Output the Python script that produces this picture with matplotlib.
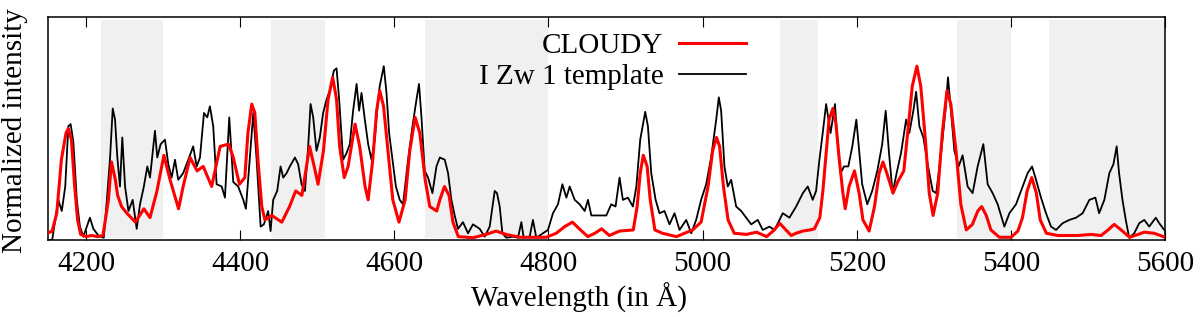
import matplotlib
matplotlib.use('Agg')
import matplotlib.pyplot as plt

plt.rcParams['font.family'] = ['Liberation Serif', 'DejaVu Serif']

# CLOUDY model (red)
cloudy_wl = [4150, 4156, 4162, 4168, 4174, 4177, 4181, 4185, 4189, 4193, 4200, 4207, 4215,
             4222, 4229, 4233, 4238, 4241, 4246, 4253, 4264, 4275, 4283, 4292, 4301, 4309,
             4320, 4326, 4335, 4344, 4352, 4363, 4374, 4385, 4391, 4399, 4406, 4410, 4415,
             4419, 4423, 4428, 4432, 4441, 4454, 4464, 4472, 4480, 4486, 4490, 4496, 4501,
             4508, 4514, 4520, 4525, 4529, 4535, 4540, 4549, 4555, 4562, 4566, 4572, 4577,
             4581, 4586, 4592, 4598, 4606, 4614, 4620, 4627, 4633, 4640, 4646, 4655, 4659,
             4665, 4671, 4676, 4683, 4702, 4719, 4732, 4745, 4763, 4797, 4810, 4821, 4831,
             4840, 4851, 4860, 4869, 4879, 4892, 4910, 4915, 4919, 4923, 4928, 4932, 4938,
             4948, 4966, 4987, 4998, 5007, 5013, 5018, 5022, 5027, 5033, 5041, 5057, 5070,
             5083, 5093, 5100, 5108, 5115, 5121, 5130, 5139, 5145, 5152, 5156, 5161, 5164,
             5169, 5173, 5177, 5182, 5185, 5190, 5197, 5203, 5208, 5216, 5223, 5229, 5234,
             5239, 5247, 5253, 5261, 5266, 5272, 5278, 5283, 5289, 5294, 5299, 5305, 5311,
             5317, 5322, 5329, 5335, 5342, 5350, 5357, 5362, 5368, 5374, 5385, 5400, 5409,
             5415, 5421, 5427, 5433, 5438, 5446, 5461, 5487, 5504, 5517, 5526, 5534, 5543,
             5554, 5565, 5573, 5586, 5600]
cloudy_int = [0.03, 0.04, 0.12, 0.36, 0.48, 0.50, 0.45, 0.25, 0.09, 0.025, 0.015, 0.02, 0.015,
              0.02, 0.18, 0.35, 0.27, 0.20, 0.15, 0.12, 0.08, 0.14, 0.10, 0.22, 0.38, 0.27,
              0.14, 0.24, 0.37, 0.31, 0.33, 0.24, 0.42, 0.43, 0.37, 0.25, 0.28, 0.48, 0.61,
              0.57, 0.36, 0.15, 0.09, 0.11, 0.08, 0.15, 0.22, 0.20, 0.33, 0.42, 0.33, 0.25,
              0.40, 0.63, 0.73, 0.63, 0.42, 0.28, 0.33, 0.52, 0.42, 0.24, 0.18, 0.36, 0.58,
              0.67, 0.60, 0.39, 0.18, 0.08, 0.18, 0.40, 0.55, 0.48, 0.27, 0.15, 0.13, 0.18,
              0.24, 0.20, 0.08, 0.015, 0.01, 0.025, 0.04, 0.025, 0.012, 0.012, 0.03, 0.06, 0.08,
              0.05, 0.015, 0.03, 0.05, 0.02, 0.04, 0.045, 0.15, 0.30, 0.38, 0.33, 0.18, 0.045,
              0.03, 0.015, 0.045, 0.08, 0.24, 0.40, 0.46, 0.42, 0.24, 0.09, 0.03, 0.025, 0.035,
              0.015, 0.045, 0.075, 0.045, 0.02, 0.03, 0.04, 0.045, 0.05, 0.10, 0.22, 0.42, 0.54,
              0.59, 0.52, 0.37, 0.21, 0.14, 0.24, 0.31, 0.21, 0.09, 0.04, 0.15, 0.30, 0.35,
              0.30, 0.21, 0.26, 0.31, 0.48, 0.69, 0.78, 0.69, 0.45, 0.21, 0.11, 0.21, 0.48,
              0.67, 0.61, 0.39, 0.16, 0.045, 0.07, 0.13, 0.15, 0.11, 0.045, 0.012, 0.012, 0.04,
              0.10, 0.22, 0.28, 0.21, 0.09, 0.03, 0.02, 0.02, 0.025, 0.02, 0.045, 0.07, 0.045,
              0.012, 0.025, 0.035, 0.03, 0.012]

# I Zw 1 template (black)
izw1_wl = [4150, 4156, 4164, 4168.5, 4173, 4177, 4180, 4183.5, 4188, 4192, 4196.5, 4201, 4205,
           4209.5, 4216, 4223, 4227, 4231, 4234.6, 4237.6, 4240.6, 4244, 4247, 4250.6, 4255,
           4260.5, 4265.7, 4270, 4275, 4279.5, 4283, 4289.4, 4292.4, 4296.8, 4302.4, 4306.7,
           4311, 4315.4, 4319.6, 4326, 4332.6, 4339, 4343.5, 4347.8, 4353, 4357.2, 4360.7,
           4365, 4369.4, 4376, 4380.2, 4385.8, 4391, 4397.4, 4404, 4407.4, 4411.7, 4417,
           4421.3, 4426.5, 4430.7, 4436.3, 4439.4, 4442.8, 4448, 4452.4, 4455.8, 4460.2, 4464.4,
           4471, 4475.2, 4479.6, 4484, 4488.2, 4491.3, 4494.7, 4499, 4503.3, 4507.6, 4512,
           4516.3, 4521.5, 4525, 4528.4, 4533.5, 4538, 4542.2, 4546.5, 4551, 4554.3, 4557.4,
           4561.7, 4566, 4570.4, 4574.6, 4577.6, 4581, 4586.3, 4589.8, 4593.2, 4597.6, 4602,
           4607, 4611.3, 4617.8, 4623.5, 4628.7, 4632, 4635.2, 4639.4, 4643.7, 4649.4, 4654.6,
           4659, 4665.4, 4669.7, 4674, 4678.3, 4682.6, 4689, 4695.6, 4702, 4710.7, 4717.2,
           4723.7, 4730.2, 4733.2, 4736.7, 4740.2, 4745.4, 4754, 4760.4, 4764.8, 4767.8, 4775.6,
           4779.8, 4784.2, 4792.8, 4799.3, 4805.8, 4812.3, 4818, 4823.2, 4827.5, 4834, 4840.4,
           4847, 4851.2, 4855.6, 4875, 4881.4, 4887, 4892.2, 4896.5, 4903, 4909.5, 4914,
           4919, 4925.5, 4929, 4933.3, 4939, 4944, 4950.5, 4957, 4963.5, 4970, 4978.7, 4985.2,
           4991.6, 4998, 5004.6, 5011, 5017.6, 5021, 5024, 5028.3, 5032.6, 5037, 5043.5, 5050,
           5056.5, 5063, 5071.5, 5078, 5086.7, 5093.2, 5099.7, 5104, 5112.6, 5121.3, 5130,
           5136.4, 5142.8, 5147.2, 5151.5, 5155.8, 5160.2, 5166, 5171.7, 5174.7, 5179, 5183.4,
           5189, 5194.2, 5199.4, 5203.8, 5207, 5213.6, 5220, 5226.6, 5233, 5237.5, 5241.8,
           5246.5, 5251.7, 5257.4, 5264, 5268.2, 5273.4, 5277, 5281.2, 5286.4, 5292, 5298.5,
           5303, 5309.4, 5315, 5318.3, 5322.2, 5326.6, 5332.2, 5337.3, 5343.8, 5350.3, 5356.8,
           5364.2, 5369.8, 5376.3, 5382.8, 5391.5, 5398, 5406.6, 5415.2, 5421.7, 5427.4,
           5432.6, 5439, 5445.5, 5452, 5458.5, 5467, 5475.8, 5484.5, 5493, 5501.8, 5509.6,
           5514.4, 5521.2, 5527.7, 5533, 5537.2, 5540.3, 5544.7, 5549, 5553.4, 5560, 5566.4,
           5573, 5579.4, 5588, 5592.4, 5599]
izw1_int = [0.0, 0.0, 0.18, 0.13, 0.24, 0.51, 0.52, 0.44, 0.18, 0.06, 0.015, 0.06, 0.10,
            0.05, 0.02, 0.01, 0.18, 0.36, 0.59, 0.54, 0.37, 0.24, 0.46, 0.24, 0.13,
            0.18, 0.05, 0.16, 0.24, 0.33, 0.28, 0.49, 0.37, 0.43, 0.45, 0.34,
            0.28, 0.36, 0.27, 0.30, 0.36, 0.42, 0.33, 0.37, 0.57, 0.55, 0.60,
            0.51, 0.25, 0.24, 0.19, 0.55, 0.26, 0.24, 0.18, 0.14, 0.33, 0.57,
            0.36, 0.06, 0.07, 0.13, 0.04, 0.18, 0.22, 0.33, 0.28, 0.30, 0.33,
            0.37, 0.34, 0.25, 0.22, 0.42, 0.61, 0.55, 0.40, 0.46, 0.57, 0.63,
            0.67, 0.76, 0.77, 0.63, 0.36, 0.39, 0.43, 0.58, 0.70, 0.58, 0.66,
            0.54, 0.43, 0.36, 0.45, 0.58, 0.69, 0.78, 0.66, 0.48, 0.36, 0.24,
            0.18, 0.16, 0.36, 0.51, 0.63, 0.70, 0.55, 0.31, 0.28, 0.21, 0.33,
            0.37, 0.36, 0.30, 0.18, 0.11, 0.05, 0.08, 0.03, 0.07, 0.05, 0.015,
            0.06, 0.22, 0.21, 0.15, 0.03, 0.01, 0.015, 0.01, 0.08, 0.01, 0.015,
            0.09, 0.01, 0.03, 0.045, 0.12, 0.16, 0.25, 0.19, 0.24, 0.18, 0.16,
            0.13, 0.18, 0.11, 0.11, 0.16, 0.15, 0.28, 0.18, 0.19, 0.15, 0.24,
            0.45, 0.575, 0.51, 0.30, 0.18, 0.12, 0.13, 0.07, 0.12, 0.045, 0.09, 0.03,
            0.09, 0.18, 0.25, 0.37, 0.54, 0.64, 0.58, 0.33, 0.24, 0.27, 0.15, 0.13,
            0.10, 0.07, 0.09, 0.045, 0.06, 0.045, 0.09, 0.12, 0.10, 0.15, 0.21,
            0.24, 0.18, 0.22, 0.36, 0.48, 0.61, 0.48, 0.61, 0.45, 0.30, 0.33,
            0.33, 0.42, 0.54, 0.37, 0.25, 0.16, 0.22, 0.31, 0.43, 0.58, 0.39,
            0.21, 0.30, 0.39, 0.54, 0.48, 0.58, 0.665, 0.51, 0.46, 0.34, 0.22,
            0.21, 0.39, 0.58, 0.73, 0.58, 0.40, 0.33, 0.38, 0.24, 0.21, 0.33,
            0.43, 0.25, 0.21, 0.16, 0.06, 0.12, 0.16, 0.24, 0.30, 0.33,
            0.27, 0.19, 0.12, 0.06, 0.045, 0.075, 0.09, 0.10, 0.12, 0.18, 0.19,
            0.12, 0.18, 0.30, 0.34, 0.42, 0.30, 0.18, 0.09, 0.01, 0.03, 0.075,
            0.09, 0.06, 0.10, 0.075, 0.045]

# shaded wavelength windows
shade_start = [4220, 4440, 4640, 5100, 5330, 5450]
shade_end = [4300, 4510, 4800, 5150, 5400, 5600]

fig = plt.figure(figsize=(12, 3.17), dpi=100)
ax = fig.add_axes([0.0396, 0.243, 0.9313, 0.703])

for s, e in zip(shade_start, shade_end):
    ax.axvspan(s, e, ymin=0.01, ymax=0.985, color='#f0f0f0', lw=0, zorder=0)

ax.plot(izw1_wl, izw1_int, color='black', lw=1.3, label='I Zw 1 template', zorder=2)
ax.plot(cloudy_wl, cloudy_int, color='#ff0000', lw=2.2, label='CLOUDY', zorder=3)

ax.set_xlim(4150, 5600)
ax.set_ylim(0, 1)
ax.set_xticks(range(4200, 5601, 200))
ax.set_yticks([])
ax.tick_params(axis='x', direction='in', top=True, length=7, width=0.8,
               labelsize=21, pad=8)
for sp in ax.spines.values():
    sp.set_linewidth(1.1)

ax.set_xlabel('Wavelength (in Å)', fontsize=21)
ax.xaxis.set_label_coords(0.476, -0.19)
ax.set_ylabel('Normalized intensity', fontsize=21)
ax.yaxis.set_label_coords(-0.0175, 0.49)

h, l = ax.get_legend_handles_labels()
ax.legend(h[::-1], l[::-1], loc='upper right', bbox_to_anchor=(0.622, 0.897),
          bbox_transform=fig.transFigure, frameon=False, markerfirst=False,
          fontsize=21, handlelength=2.3, handletextpad=0.55, labelspacing=0.17,
          borderpad=0, borderaxespad=0)

plt.savefig('out.png', dpi=100)
